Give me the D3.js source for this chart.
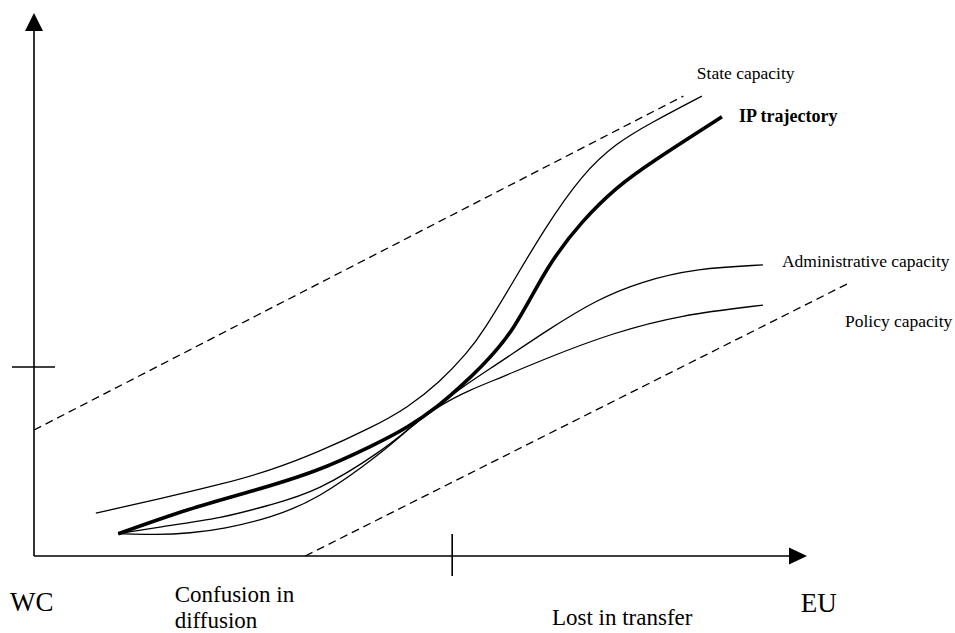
<!DOCTYPE html>
<html>
<head>
<meta charset="utf-8">
<script src="https://cdn.jsdelivr.net/npm/d3@7"></script>
<style>
  body { margin: 0; background: #fff; }
  svg { display: block; font-family: 'Liberation Serif', 'Times New Roman', serif; }
</style>
</head>
<body>
<svg width="955" height="633"></svg>
<script>
// Both axes run 0..100 (arrow tips at 100). x: WC -> EU, y: capacity
const stateX = [8.0, 15.9, 24.5, 30.5, 36.6, 43.9, 48.3, 52.5, 56.1, 58.1, 62.0, 65.9, 71.0, 75.4, 79.7, 86.4];
const stateY = [7.9, 10.4, 13.3, 15.7, 19.0, 23.8, 27.3, 32.0, 37.5, 41.3, 50.5, 60.0, 70.5, 76.1, 79.7, 84.7];

const ipX = [10.9, 20.2, 27.9, 36.6, 43.9, 48.3, 52.5, 55.1, 57.7, 62.0, 66.4, 71.0, 75.4, 79.7, 89.0];
const ipY = [4.1, 8.8, 11.8, 15.5, 20.4, 23.6, 27.8, 31.1, 34.6, 41.1, 53.6, 61.9, 68.0, 72.4, 80.9];

const adminX = [10.9, 15.9, 20.2, 24.5, 30.5, 36.6, 45.2, 48.6, 52.5, 55.8, 60.3, 66.4, 72.8, 78.4, 85.8, 94.3];
const adminY = [4.1, 3.9, 4.2, 5.0, 7.0, 10.3, 19.2, 23.6, 28.0, 31.5, 35.7, 41.6, 47.2, 50.5, 53.0, 53.6];

const policyX = [10.9, 15.9, 24.5, 30.5, 36.6, 45.2, 48.6, 52.5, 56.4, 60.3, 66.4, 74.9, 83.6, 94.3];
const policyY = [4.1, 5.3, 7.0, 9.4, 11.8, 19.5, 23.6, 27.8, 30.6, 32.8, 36.5, 41.1, 44.4, 46.2];

// dashed bounds of the corridor
const upperBound = [[0, 23.2], [84.0, 84.7]];
const lowerBound = [[35.1, 0], [105.2, 50.1]];

const seriesNames = ['State capacity', 'IP trajectory', 'Administrative capacity', 'Policy capacity'];

// axis marks and the phase labels under the x axis
const xMarks = [54.1];
const yMarks = [34.8];
const phaseLabels = ['WC', 'Confusion in', 'diffusion', 'Lost in transfer', 'EU'];
const phaseAt = [-3.1, 18.2, 18.2, 67.0, 99.2];

const svg = d3.select('svg');

const x = d3.scaleLinear().domain([0, 100]).range([34, 807]);
const y = d3.scaleLinear().domain([0, 100]).range([556, 13]);

// hand-drawn look: smooth through the read-off points
const line = d3.line()
  .x(d => x(d[0]))
  .y(d => y(d[1]))
  .curve(d3.curveBasis);

// axes with arrow heads
const ax = svg.append('g').attr('stroke', '#000').attr('stroke-width', 1.6);
ax.append('line')
  .attr('x1', x(0)).attr('y1', y(0))
  .attr('x2', x(100) - 16).attr('y2', y(0));
ax.append('line')
  .attr('x1', x(0)).attr('y1', y(0))
  .attr('x2', x(0)).attr('y2', y(100) + 16);

svg.append('path')
  .attr('d', `M${x(100)},${y(0)} L${x(100) - 18},${y(0) - 8.5} L${x(100) - 18},${y(0) + 8.5} Z`)
  .attr('fill', '#000');
svg.append('path')
  .attr('d', `M${x(0)},${y(100)} L${x(0) - 9},${y(100) + 18} L${x(0) + 9},${y(100) + 18} Z`)
  .attr('fill', '#000');

// cross ticks
ax.selectAll('.xmark')
  .data(xMarks)
  .join('line')
  .attr('x1', d => x(d)).attr('x2', d => x(d))
  .attr('y1', y(0) - 22).attr('y2', y(0) + 20);
ax.selectAll('.ymark')
  .data(yMarks)
  .join('line')
  .attr('y1', d => y(d)).attr('y2', d => y(d))
  .attr('x1', x(0) - 22).attr('x2', x(0) + 21);

// dashed corridor
svg.selectAll('.bound')
  .data([upperBound, lowerBound])
  .join('path')
  .attr('d', d => d3.line().x(p => x(p[0])).y(p => y(p[1]))(d))
  .attr('fill', 'none')
  .attr('stroke', '#000')
  .attr('stroke-width', 1.3)
  .attr('stroke-dasharray', '8,5');

// capacity curves, IP trajectory drawn thick
const series = [
  { name: seriesNames[0], pts: d3.zip(stateX, stateY), w: 1.3, dx: -5, dy: -17, bold: false },
  { name: seriesNames[1], pts: d3.zip(ipX, ipY), w: 3.6, dx: 17, dy: 5, bold: true },
  { name: seriesNames[2], pts: d3.zip(adminX, adminY), w: 1.3, dx: 19, dy: 2, bold: false },
  { name: seriesNames[3], pts: d3.zip(policyX, policyY), w: 1.3, dx: 82, dy: 22, bold: false }
];

svg.append('g')
  .selectAll('path')
  .data(series)
  .join('path')
  .attr('d', d => line(d.pts))
  .attr('fill', 'none')
  .attr('stroke', '#000')
  .attr('stroke-width', d => d.w)
  .attr('stroke-linecap', 'butt');

svg.append('g')
  .selectAll('text')
  .data(series)
  .join('text')
  .attr('x', d => x(d.pts[d.pts.length - 1][0]) + d.dx)
  .attr('y', d => y(d.pts[d.pts.length - 1][1]) + d.dy)
  .attr('font-size', d => d.bold ? 18 : 17.5)
  .attr('font-weight', d => d.bold ? 'bold' : 'normal')
  .text(d => d.name);

// phase labels along the bottom
const big = [27, 23, 23, 23, 27];
const base = [611, 602, 628, 625, 612];
svg.append('g')
  .selectAll('text')
  .data(phaseLabels)
  .join('text')
  .attr('x', (d, i) => x(phaseAt[i]))
  .attr('y', (d, i) => base[i])
  .attr('font-size', (d, i) => big[i])
  .text(d => d);
</script>
</body>
</html>
